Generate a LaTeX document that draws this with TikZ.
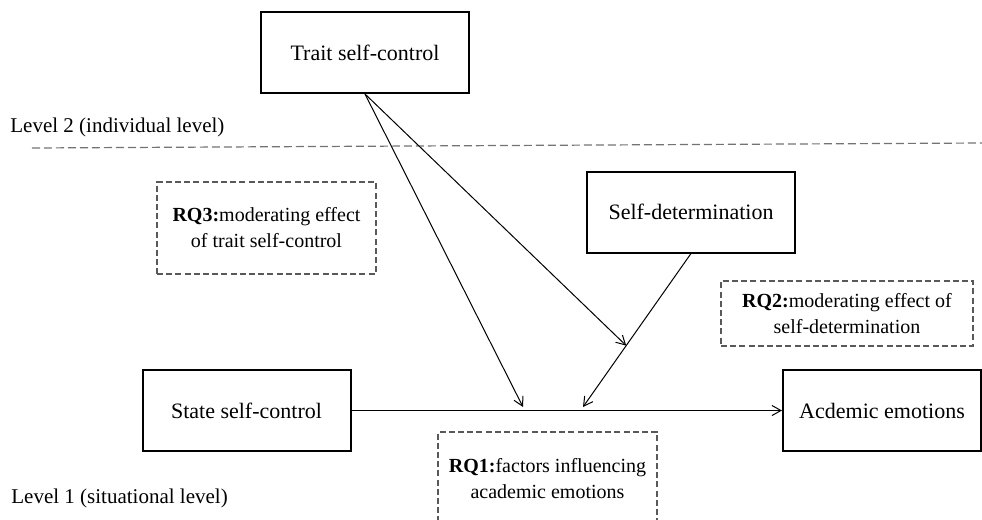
\documentclass[tikz,border=0pt]{standalone}
\usepackage{fontspec}
\setmainfont{Liberation Serif}
\usetikzlibrary{arrows.meta, positioning, calc}

\begin{document}
\begin{tikzpicture}[x=0.5pt, y=-0.5pt,
    box/.style={draw, line width=1pt, minimum width=104pt, minimum height=40.5pt, inner sep=0pt, font=\fontsize{11}{13}\selectfont},
    rq/.style={draw=black!65, dash pattern=on 3pt off 1.6pt, line width=0.6pt, align=center, inner sep=0pt, font=\fontsize{10}{13}\selectfont},
    lvl/.style={anchor=west, inner sep=0pt, font=\fontsize{10.5}{13}\selectfont},
    arrow/.style={-{Straight Barb[length=4.5pt, width=5pt]}, line width=0.5pt},
    sep/.style={draw=black!55, dash pattern=on 4pt off 2pt, line width=0.6pt}
  ]
    \useasboundingbox (0,0) rectangle (982,520);
    \clip (0,0) rectangle (982,520);
    % levels
    \node[lvl] (lvl2) at (10,127) {Level 2 (individual level)};
    \node[lvl] (lvl1) at (11,498) {Level 1 (situational level)};
    \coordinate (sepL) at (32,148);
    \coordinate (sepR) at (982,143);
    \draw[sep] (sepL) -- (sepR);
    % variables
    \node[box] (trait) at (365,52.5) {Trait self-control};
    \node[box] (selfdet) at (691,212) {Self-determination};
    \node[box] (state) at (246.5,410.5) {State self-control};
    \node[box, minimum width=99pt] (emo) at (882,410.5) {Acdemic emotions};
    % research questions
    \node[rq, minimum width=109.5pt, minimum height=46pt] (rq3) at (266.5,228) {\textbf{RQ3:}moderating effect\\of trait self-control};
    \node[rq, minimum width=126pt, minimum height=32.5pt] (rq2) at (847,313.5) {\textbf{RQ2:}moderating effect of\\self-determination};
    \node[rq, minimum width=109.5pt, minimum height=47pt] (rq1) at (547.5,479) {\textbf{RQ1:}factors influencing\\academic emotions};
    % paths
    \coordinate (m1) at (523,407);
    \coordinate (m2) at (583,407);
    \draw[arrow] (state) -- (emo);
    \draw[arrow] (trait.south) -- (m1);
    \draw[arrow] (selfdet.south) -- (m2);
    \coordinate (j) at ($(selfdet.south)!0.6!(m2)$);
    \draw[arrow] (trait.south) -- (j);
  \end{tikzpicture}
\end{document}
